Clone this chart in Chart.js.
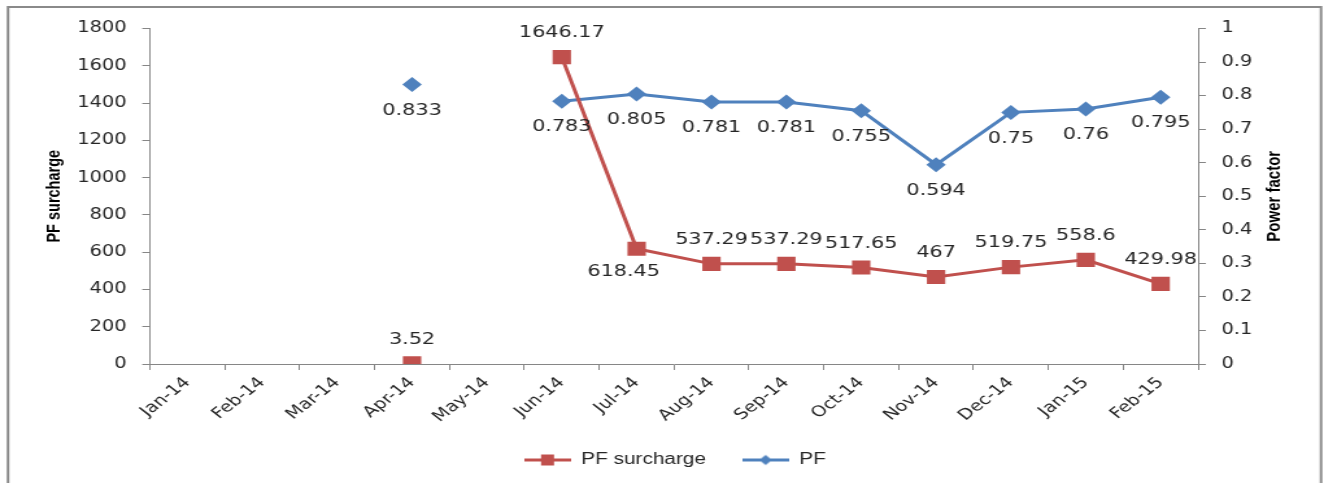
<!DOCTYPE html>
<html>
<head>
<meta charset="utf-8">
<title>PF surcharge and power factor</title>
<script src="https://cdn.jsdelivr.net/npm/chart.js@4/dist/chart.umd.min.js"></script>
<style>
  html, body { margin: 0; padding: 0; background: #ffffff; overflow: hidden; }
  #chart { display: block; }
</style>
</head>
<body>
<!-- the drawing surface is rendered narrower and widened by CSS -->
<canvas id="chart" width="1020" height="483" style="width:1324px;height:483px"></canvas>
<script>
// Months on the category axis
const months = ['Jan-14', 'Feb-14', 'Mar-14', 'Apr-14', 'May-14', 'Jun-14', 'Jul-14',
                'Aug-14', 'Sep-14', 'Oct-14', 'Nov-14', 'Dec-14', 'Jan-15', 'Feb-15'];

// Monthly power-factor surcharge (left axis); null = no bill entry
const pfSurcharge = [null, null, null, 3.52, null, 1646.17, 618.45,
                     537.29, 537.29, 517.65, 467, 519.75, 558.6, 429.98];

// Monthly power factor (right axis)
const powerFactor = [null, null, null, 0.833, null, 0.783, 0.805,
                     0.781, 0.781, 0.755, 0.594, 0.75, 0.76, 0.795];

// Axis ranges and tick steps
const surchargeAxis = { min: 0, max: 1800, step: 200 };
const pfAxis = { min: 0, max: 1, step: 0.1 };

const leftTitle = 'PF surcharge';
const rightTitle = 'Power factor';

const RED = '#C0504D';
const BLUE = '#4F81BD';
const AXIS_GREY = '#868686';
const TEXT = '#262626';

// Legend key: a short line with the series marker in its middle
function legendKey(color, shape) {
  const c = document.createElement('canvas');
  c.width = 36; c.height = 15;
  const g = c.getContext('2d');
  g.strokeStyle = color;
  g.lineWidth = 3;
  g.beginPath(); g.moveTo(0, 7.5); g.lineTo(36, 7.5); g.stroke();
  g.fillStyle = color;
  if (shape === 'rect') {
    g.fillRect(13, 2, 10, 11);
  } else {
    g.beginPath();
    g.moveTo(18, 2.5); g.lineTo(23, 7.5); g.lineTo(18, 12.5); g.lineTo(13, 7.5);
    g.closePath(); g.fill();
  }
  return c;
}

// Outer frame around the chart
const frame = {
  id: 'frame',
  beforeDraw(chart) {
    const ctx = chart.ctx;
    ctx.save();
    ctx.strokeStyle = '#8a8a8a';
    ctx.lineWidth = 2;
    ctx.strokeRect(6.2, 7, 1011.5, 500);
    ctx.restore();
  }
};

// Right axis title, read bottom to top like the left one
const rightAxisTitle = {
  id: 'rightAxisTitle',
  afterDraw(chart) {
    const ctx = chart.ctx;
    const area = chart.chartArea;
    ctx.save();
    ctx.font = 'bold 15px "Liberation Sans", Arial, sans-serif';
    ctx.fillStyle = '#000000';
    ctx.textAlign = 'center';
    ctx.textBaseline = 'middle';
    ctx.translate(982.3, (area.top + area.bottom) / 2);
    ctx.rotate(-Math.PI / 2);
    ctx.fillText(rightTitle, 0, 0);
    ctx.restore();
  }
};

// Value labels next to each marker
const valueLabels = {
  id: 'valueLabels',
  afterDatasetsDraw(chart) {
    const ctx = chart.ctx;
    ctx.save();
    ctx.font = '16px "DejaVu Sans", Verdana, sans-serif';
    ctx.fillStyle = TEXT;
    ctx.textAlign = 'center';
    ctx.textBaseline = 'middle';
    chart.data.datasets.forEach((ds, di) => {
      const meta = chart.getDatasetMeta(di);
      const cfg = ds.valueLabel;
      meta.data.forEach((pt, i) => {
        const v = ds.data[i];
        if (v === null || v === undefined) return;
        const o = (cfg.overrides && cfg.overrides[i]) || {};
        const dx = o.dx !== undefined ? o.dx : 0;
        const dy = o.dy !== undefined ? o.dy : cfg.dy;
        ctx.fillText(String(v), pt.x + dx, pt.y + dy);
      });
    });
    ctx.restore();
  }
};

const tickFont = { family: '"DejaVu Sans", Verdana, sans-serif', size: 15 };

new Chart(document.getElementById('chart'), {
  type: 'line',
  data: {
    labels: months,
    datasets: [
      {
        label: 'PF surcharge',
        data: pfSurcharge,
        yAxisID: 'y',
        borderColor: RED,
        backgroundColor: RED,
        borderWidth: 3,
        pointStyle: 'rect',
        pointRadius: 10,
        pointBorderWidth: 0,
        pointBackgroundColor: RED,
        spanGaps: false,
        tension: 0,
        valueLabel: { dy: -24, overrides: { 6: { dx: -10, dy: 23 } } }
      },
      {
        label: 'PF',
        data: powerFactor,
        yAxisID: 'y1',
        borderColor: BLUE,
        backgroundColor: BLUE,
        borderWidth: 3,
        pointStyle: 'rectRot',
        pointRadius: 7.5,
        pointBorderWidth: 0,
        pointBackgroundColor: BLUE,
        spanGaps: false,
        tension: 0,
        valueLabel: { dy: 26 }
      }
    ]
  },
  options: {
    responsive: false,
    animation: false,
    devicePixelRatio: 1,
    events: [],
    layout: { padding: { top: 28.5, left: 20, right: 0, bottom: 5 } },
    scales: {
      x: {
        type: 'category',
        offset: true,
        grid: { offset: true, drawOnChartArea: false, drawTicks: true, tickLength: 6, color: AXIS_GREY },
        border: { color: AXIS_GREY, width: 1 },
        ticks: { autoSkip: false, maxRotation: 45, minRotation: 45, padding: 4, font: tickFont, color: TEXT },
        afterFit(scale) { scale.height = 60; }
      },
      y: {
        position: 'left',
        min: surchargeAxis.min,
        max: surchargeAxis.max,
        grid: { drawOnChartArea: false, drawTicks: true, tickLength: 6, color: AXIS_GREY },
        border: { color: AXIS_GREY, width: 1 },
        ticks: { stepSize: surchargeAxis.step, padding: 12, font: tickFont, color: TEXT,
                 callback: v => String(v) },
        title: { display: true, text: leftTitle, color: '#000000',
                 font: { family: '"Liberation Sans", Arial, sans-serif', size: 14.5, weight: 'bold' },
                 padding: { top: 13.7, bottom: 0 } },
        afterFit(scale) { scale.width = 95.6; }
      },
      y1: {
        position: 'right',
        min: pfAxis.min,
        max: pfAxis.max,
        grid: { drawOnChartArea: false, drawTicks: true, tickLength: 6, color: AXIS_GREY },
        border: { color: AXIS_GREY, width: 1 },
        ticks: { stepSize: pfAxis.step, padding: 12, font: tickFont, color: TEXT,
                 callback: v => String(Math.round(v * 10) / 10) },
        afterFit(scale) { scale.width = 97; }
      }
    },
    plugins: {
      tooltip: { enabled: false },
      legend: {
        position: 'bottom',
        labels: {
          usePointStyle: true,
          pointStyleWidth: 36,
          padding: 28,
          color: TEXT,
          font: { family: '"Liberation Sans", Arial, sans-serif', size: 16 },
          generateLabels(chart) {
            return chart.data.datasets.map((ds, i) => ({
              text: ds.label,
              datasetIndex: i,
              hidden: false,
              pointStyle: legendKey(ds.borderColor, ds.pointStyle),
              fillStyle: ds.borderColor,
              strokeStyle: ds.borderColor,
              lineWidth: 0,
              fontColor: TEXT
            }));
          }
        }
      }
    }
  },
  plugins: [frame, valueLabels, rightAxisTitle]
});
</script>
</body>
</html>
